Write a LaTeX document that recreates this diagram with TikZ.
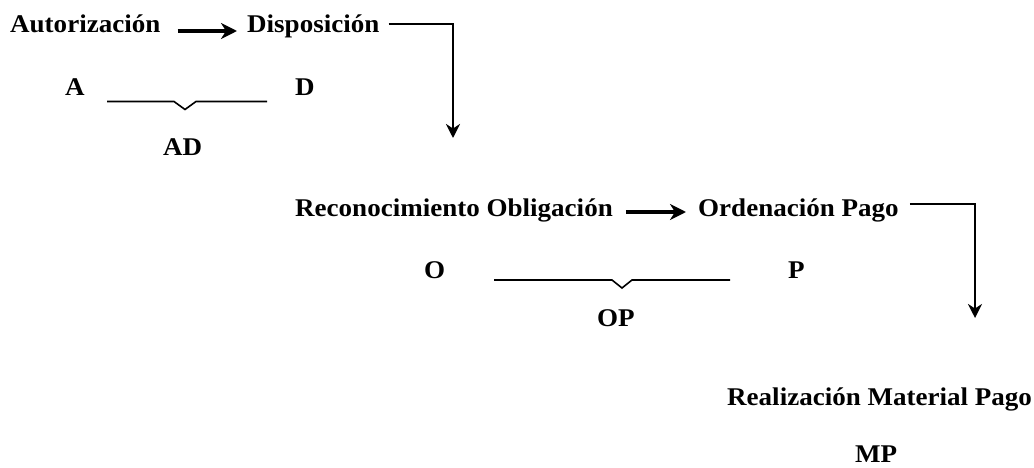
\documentclass[tikz,border=0pt]{standalone}
\usepackage{fontspec}
\setmainfont{Liberation Serif}[FakeStretch=1.06]
\usetikzlibrary{arrows.meta,calc}

\tikzset{
  lbl/.style={anchor=base west, inner sep=0pt, font=\fontsize{25.5}{30}\selectfont\bfseries},
  flow/.style={line width=3.2pt, -{Stealth[length=16pt,width=16pt,inset=5pt]}},
  turn/.style={line width=2.2pt, -{Stealth[length=14pt,width=14pt,inset=4.5pt]}},
  brk/.style={line width=1.6pt, line join=miter}
}

\begin{document}
\begin{tikzpicture}[x=1pt,y=-1pt]
\path[use as bounding box] (0,0) rectangle (1034,468);

% first stage
\node[lbl] (aut) at (10,33) {Autorización};
\node[lbl] (dis) at (247,33) {Disposición};
\node[lbl] (a) at (65,96) {A};
\node[lbl] (d) at (295,96) {D};
\node[lbl] (ad) at (163,156) {AD};

% second stage
\node[lbl] (rec) at (295,216) {Reconocimiento Obligación};
\node[lbl] (ord) at (698,216) {Ordenación Pago};
\node[lbl] (o) at (424,278) {O};
\node[lbl] (p) at (788,278) {P};
\node[lbl] (op) at (597,326) {OP};

% final stage
\node[lbl] (rmp) at (727,405) {Realización Material Pago};
\node[lbl] (mp) at (855,462) {MP};

% horizontal flow arrows
\draw[flow] ([xshift=17pt,yshift=2pt]aut.base east) -- ([xshift=-10pt,yshift=2pt]dis.base west);
\draw[flow] ([xshift=13pt,yshift=4pt]rec.base east) -- ([xshift=-12pt,yshift=4pt]ord.base west);

% elbow connectors dropping to the next stage
\coordinate (t1) at (453,138);
\coordinate (t2) at (975,318);
\draw[turn] ([xshift=9pt,yshift=9pt]dis.base east) -| (t1);
\draw[turn] ([xshift=11pt,yshift=12pt]ord.base east) -| (t2);

% brackets joining the phase letters
\coordinate (adL) at (107,101.5);
\coordinate (adR) at (267,101.5);
\draw[brk] (adL) -- (174,101.5) -- (185,109.5) -- (196,101.5) -- (adR);
\coordinate (opL) at (494,280);
\coordinate (opR) at (730,280);
\draw[brk] (opL) -- (612,280) -- (622,288) -- (632,280) -- (opR);
\end{tikzpicture}
\end{document}
